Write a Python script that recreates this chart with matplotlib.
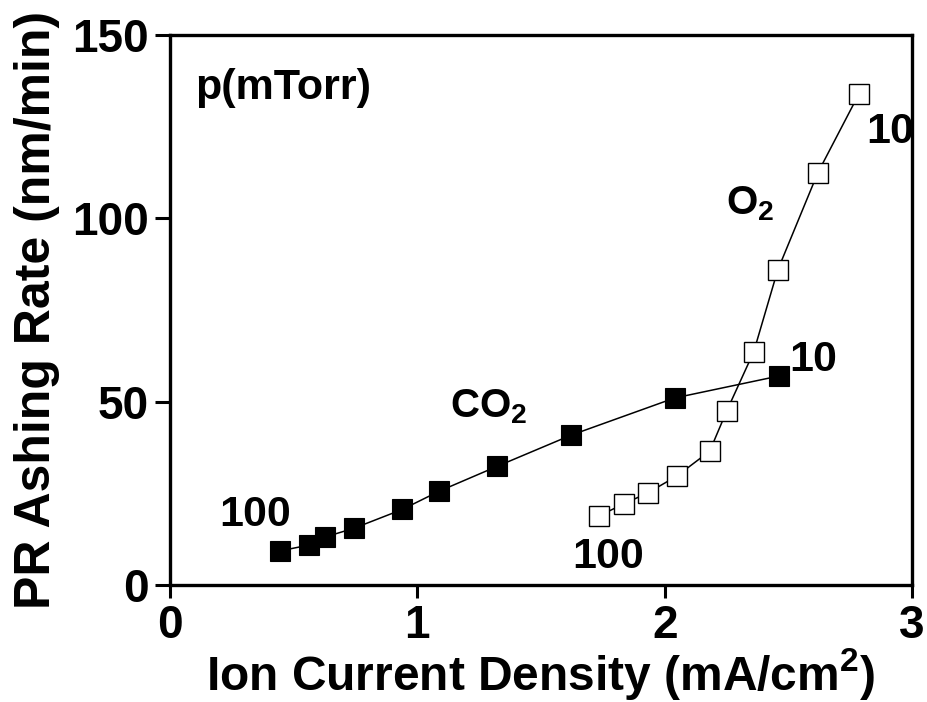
import matplotlib
matplotlib.use("Agg")
import matplotlib.pyplot as plt

plt.rcParams['font.family'] = ['Liberation Sans', 'DejaVu Sans']
plt.rcParams['font.weight'] = 'bold'
plt.rcParams['axes.labelweight'] = 'bold'
plt.rcParams['mathtext.fontset'] = 'custom'
plt.rcParams['mathtext.rm'] = 'Liberation Sans:bold'
plt.rcParams['mathtext.bf'] = 'Liberation Sans:bold'
plt.rcParams['mathtext.it'] = 'Liberation Sans:bold'

# ion current density (mA/cm2) and ashing rate (nm/min), 100 -> 10 mTorr
co2_j = [0.445, 0.563, 0.628, 0.745, 0.939, 1.089, 1.324, 1.623, 2.040, 2.462]
co2_rate = [9.3, 10.9, 13.1, 15.5, 20.6, 25.6, 32.4, 40.9, 51.0, 57.0]

o2_j = [1.733, 1.834, 1.931, 2.049, 2.182, 2.251, 2.360, 2.457, 2.619, 2.785]
o2_rate = [18.8, 22.1, 25.1, 29.7, 36.5, 47.5, 63.6, 85.9, 112.4, 133.9]

xticks = [0, 1, 2, 3]
yticks = [0, 50, 100, 150]

fig = plt.figure(figsize=(9.28, 7.02), dpi=100)
ax = fig.add_axes([0.1832, 0.1667, 0.7996, 0.7834])

ax.plot(co2_j, co2_rate, '-s', color='black', lw=1.1, ms=14,
        mfc='black', mec='black', mew=0.8)
ax.plot(o2_j, o2_rate, '-s', color='black', lw=1.1, ms=14,
        mfc='white', mec='black', mew=1.0)

ax.set_xlim(0, 3)
ax.set_ylim(0, 150)
ax.set_xticks(xticks)
ax.set_yticks(yticks)
ax.tick_params(direction='out', width=2.2, labelsize=33)
ax.tick_params(axis='y', length=11, pad=4)
ax.tick_params(axis='x', length=9, pad=5)
for s in ax.spines.values():
    s.set_linewidth(2.4)

ax.set_xlabel('Ion Current Density (mA/cm$^2$)', fontsize=34.5,
              fontweight='bold', labelpad=-2)
ax.set_ylabel('PR Ashing Rate (nm/min)', fontsize=36,
              fontweight='bold', labelpad=9)

lab = dict(fontsize=31, fontweight='bold')
ax.text(0.10, 135.5, 'p(mTorr)', ha='left', va='center', **lab)
ax.text(0.344, 19.1, '100', ha='center', va='center', **lab)
ax.text(1.134, 48.5, 'CO$_2$', ha='left', va='center', fontsize=29)
ax.text(2.502, 61.4, '10', ha='left', va='center', **lab)
ax.text(2.247, 104, 'O$_2$', ha='left', va='center', fontsize=29)
ax.text(2.814, 123.5, '10', ha='left', va='center', **lab)
ax.text(1.773, 7.6, '100', ha='center', va='center', **lab)

fig.savefig('out.png', dpi=100)
